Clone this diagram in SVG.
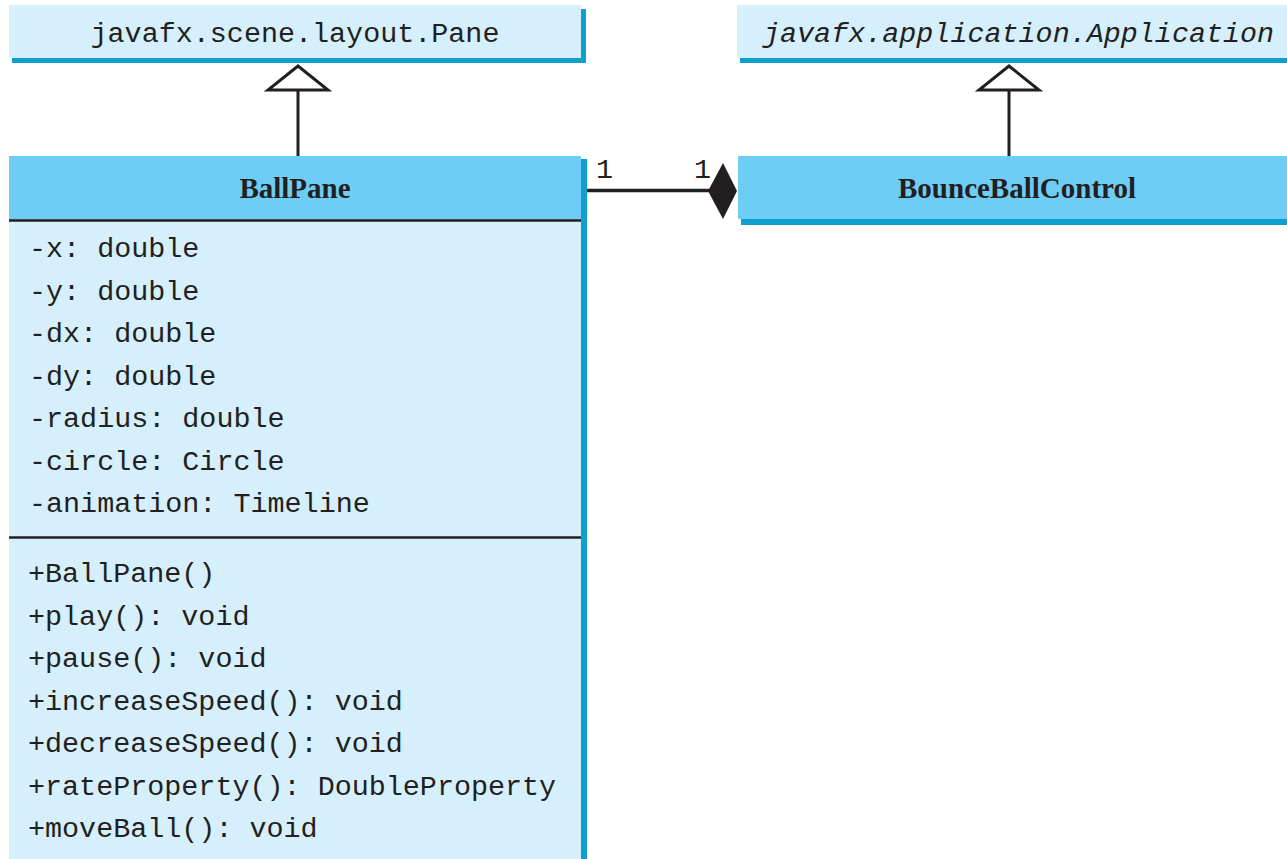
<svg xmlns="http://www.w3.org/2000/svg" width="1287" height="859" viewBox="0 0 1287 859">
<style>
.light{fill:#d5effc}
.head{fill:#6dcdf5}
.shadow{fill:#0f9fce}
.mono{font-family:"Liberation Mono","DejaVu Sans Mono",monospace;font-size:28.4px;fill:#231f20}
.bold{font-family:"Liberation Serif","Times New Roman",serif;font-weight:bold;font-size:29px;fill:#231f20}
.sep{stroke:#231f20;stroke-width:2.5}
.ln{stroke:#231f20;stroke-width:3;fill:none}
</style>
<rect width="1287" height="859" fill="#ffffff"/>
<g id="pane">
<rect class="shadow" x="12" y="9" width="574" height="54"/>
<rect class="light" x="9" y="5" width="572" height="53"/>
<text class="mono" x="295" y="42" text-anchor="middle">javafx.scene.layout.Pane</text>
</g>
<g id="application">
<rect class="shadow" x="740" y="9" width="550" height="54"/>
<rect class="light" x="737" y="5" width="552" height="53"/>
<text class="mono" x="763" y="42" font-style="italic">javafx.application.Application</text>
</g>
<g id="ballpane">
<rect class="shadow" x="12" y="159" width="575" height="705"/>
<rect class="head" x="9" y="156" width="572" height="64"/>
<rect class="light" x="9" y="220" width="572" height="645"/>
<line class="sep" x1="9" y1="220.5" x2="581" y2="220.5"/>
<line class="sep" x1="9" y1="537.5" x2="581" y2="537.5"/>
<text class="bold" x="295" y="198" text-anchor="middle">BallPane</text>
<text class="mono" x="29" y="257">-x: double</text>
<text class="mono" x="29" y="299.5">-y: double</text>
<text class="mono" x="29" y="342">-dx: double</text>
<text class="mono" x="29" y="384.5">-dy: double</text>
<text class="mono" x="29" y="427">-radius: double</text>
<text class="mono" x="29" y="469.5">-circle: Circle</text>
<text class="mono" x="29" y="512">-animation: Timeline</text>
<text class="mono" x="28" y="582">+BallPane()</text>
<text class="mono" x="28" y="624.5">+play(): void</text>
<text class="mono" x="28" y="667">+pause(): void</text>
<text class="mono" x="28" y="709.5">+increaseSpeed(): void</text>
<text class="mono" x="28" y="752">+decreaseSpeed(): void</text>
<text class="mono" x="28" y="794.5">+rateProperty(): DoubleProperty</text>
<text class="mono" x="28" y="837">+moveBall(): void</text>
</g>
<g id="bounceballcontrol">
<rect class="shadow" x="741" y="160" width="550" height="65"/>
<rect class="head" x="738" y="156" width="552" height="63"/>
<text class="bold" x="1017" y="198" text-anchor="middle">BounceBallControl</text>
</g>
<g id="connectors">
<line class="ln" x1="298" y1="90" x2="298" y2="156"/>
<polygon class="ln" points="298,66 268,90 328,90" style="fill:#ffffff"/>
<line class="ln" x1="1009" y1="90" x2="1009" y2="156"/>
<polygon class="ln" points="1009,66 979,90 1039,90" style="fill:#ffffff"/>
<line x1="587" y1="190.5" x2="710" y2="190.5" stroke="#231f20" stroke-width="3.5"/>
<polygon points="708,191 723,163 737,191 723,219" fill="#231f20"/>
<text class="mono" x="596" y="178">1</text>
<text class="mono" x="694" y="178">1</text>
</g>
</svg>
